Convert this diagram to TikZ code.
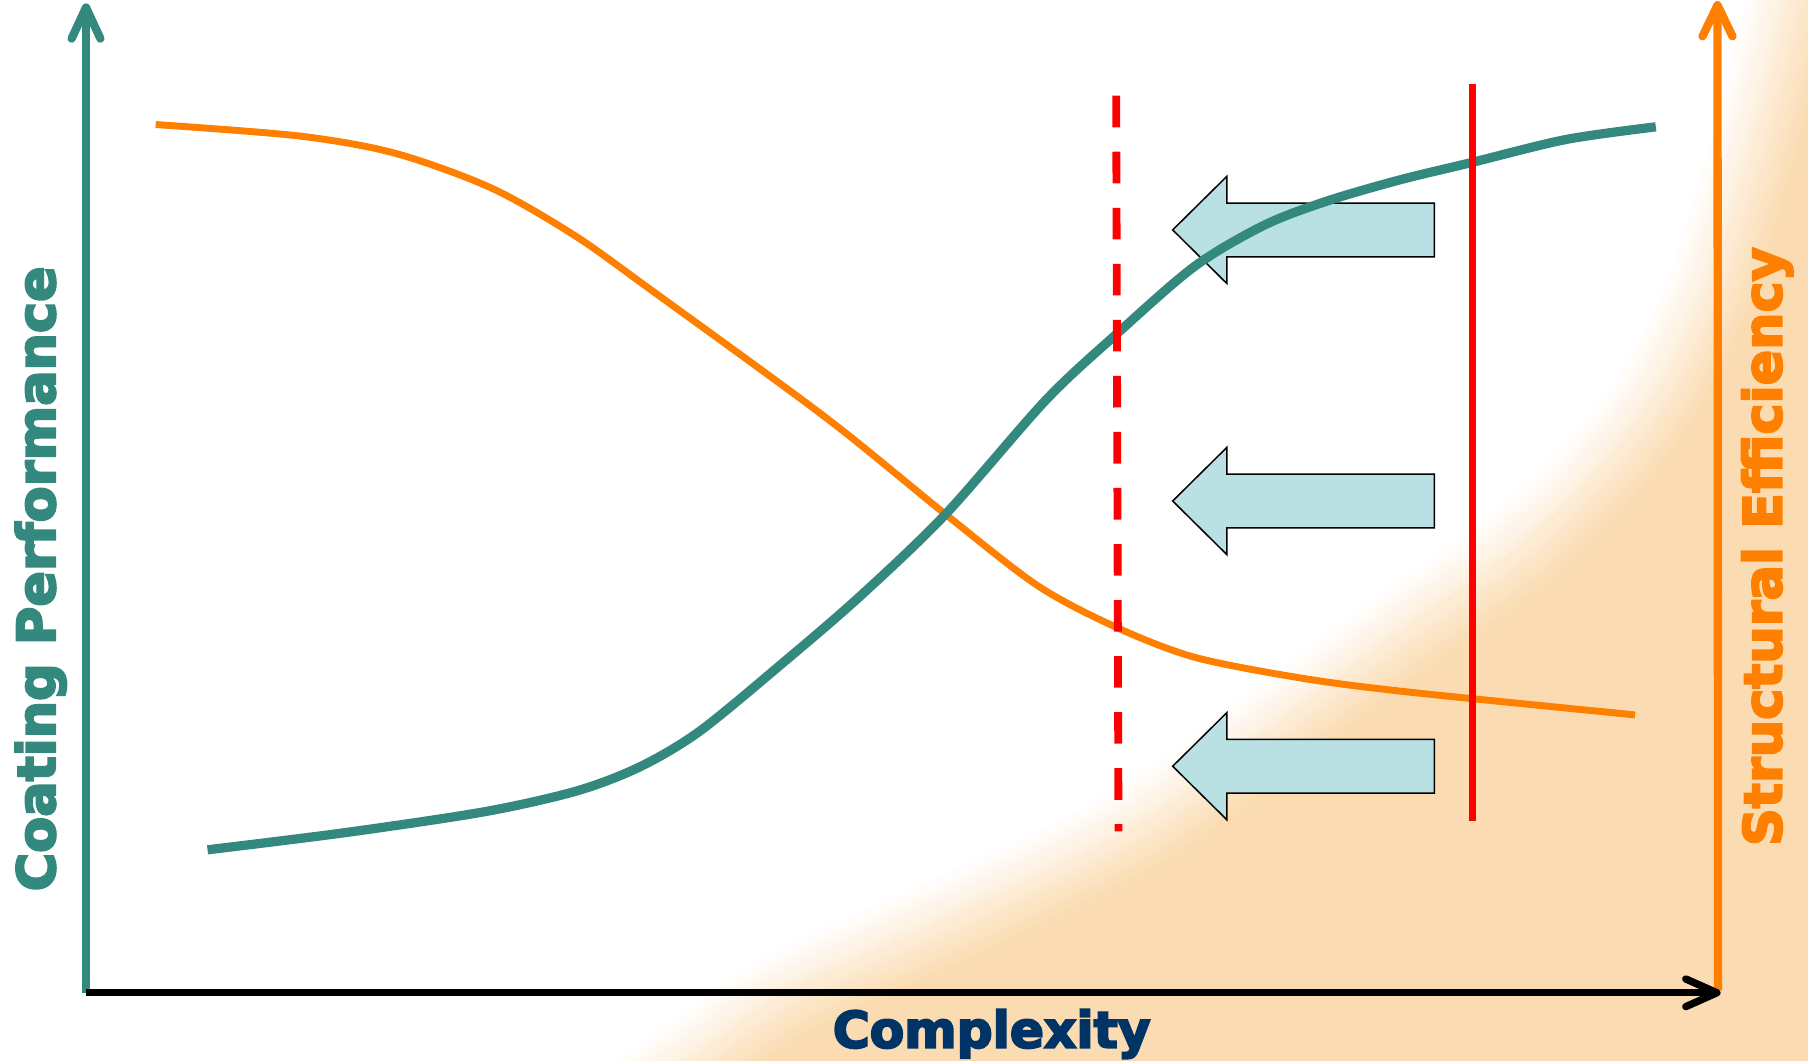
\documentclass[tikz,border=0pt]{standalone}
\usepackage{fontspec}
\newfontfamily\lblfont[FakeBold=4]{DejaVu Sans Bold}
\definecolor{tealc}{RGB}{52,137,126}
\definecolor{orngc}{RGB}{255,128,0}
\definecolor{bgor}{RGB}{251,220,178}
\definecolor{arrfill}{RGB}{185,224,227}
\definecolor{navyc}{RGB}{0,51,102}
\definecolor{redc}{RGB}{255,0,0}
\begin{document}
\begin{tikzpicture}[x=1pt,y=-1pt,
  edgepath/.style={insert path={plot[smooth,tension=0.6] coordinates {(520,975) (600,920) (687,860) (840,790) (985,718) (1080,650) (1200,560) (1330,465) (1420,368) (1474,272) (1507,175) (1532,85) (1552,0) (1566,-70)}}},
  blockarrow/.style={fill=arrfill, draw=black, line width=1.3pt, line join=miter},
  axisline/.style={line width=7.2pt, line cap=round, line join=round},
  curveline/.style={line cap=butt, line join=round},
  lbl/.style={font=\lblfont\fontsize{45.5}{50}\selectfont, inner sep=0pt, anchor=base}
]
\useasboundingbox (0,0) rectangle (1568,920);
\clip (0,0) rectangle (1568,920);
\fill[white!50!bgor] (0,0) rectangle (1568,920);
% soft orange background: white side
\begin{scope}
  \clip[edgepath] -- (-200,-150) -- (-200,1050) -- cycle;
  \fill[white] (0,0) rectangle (1568,920);
  \foreach \k in {0,...,19}{
    \pgfmathsetmacro\w{80*(1-\k/20)}
    \pgfmathsetmacro\p{50+50*(1-\k/20)}
    \draw[line width=\w pt, color=white!\p!bgor, edgepath];
  }
\end{scope}
% soft orange background: orange side
\begin{scope}
  \clip[edgepath] -- (1700,-150) -- (1700,1050) -- cycle;
  \fill[bgor] (0,0) rectangle (1568,920);
  \foreach \k in {0,...,19}{
    \pgfmathsetmacro\w{80*(1-\k/20)}
    \pgfmathsetmacro\p{50-50*(1-\k/20)}
    \draw[line width=\w pt, color=white!\p!bgor, edgepath];
  }
\end{scope}
% block arrows
\foreach \c in {199.4,434.5,664.5}{
  \draw[blockarrow] (1017,\c) -- (1064,\c-46.5) -- (1064,\c-23.3) -- (1244,\c-23.3)
    -- (1244,\c+23.3) -- (1064,\c+23.3) -- (1064,\c+46.5) -- cycle;
}
% curves
\draw[orngc, line width=6pt, curveline] plot[smooth, tension=0.5] coordinates {(135,108) (260,118) (343,133) (426,163) (498,204) (564,251) (716,362) (820,446) (900,508) (968,544) (1036,570) (1128,588) (1220,600) (1418,620)};
\draw[tealc, line width=8pt, curveline] plot[smooth, tension=0.5] coordinates {(180,737) (300,722) (420,704) (500,686) (555,665) (607,634) (680,574) (746,517) (820,446) (907,347) (968,290) (1036,231) (1097,195) (1152,174) (1214,156) (1276,141) (1358,121) (1436,110)};
% red limits
\coordinate (dTop) at (968,83);
\coordinate (dBot) at (970,721);
\coordinate (sTop) at (1277,73);
\coordinate (sBot) at (1277,712);
\draw[redc, line width=6.8pt, dash pattern=on 27.4pt off 21.2pt] (dTop) -- (dBot);
\draw[redc, line width=6.8pt] (sTop) -- (sBot);
% axes
\coordinate (O) at (74.6,861);
\coordinate (Ytip) at (74.6,6.5);
\coordinate (Xtip) at (1489,861);
\coordinate (Rbase) at (1490,859);
\coordinate (Rtip) at (1489.5,4.5);
\draw[tealc, axisline, line cap=butt] (O) -- (Ytip);
\draw[tealc, axisline] (Ytip) ++(-12.5,27) -- (Ytip) -- ++(12.5,27);
\draw[orngc, axisline, line cap=butt] (Rbase) -- (Rtip);
\draw[orngc, axisline] (Rtip) ++(-13,27) -- (Rtip) -- ++(13,27);
\draw[black, line width=6.4pt, line cap=butt] (O) -- (Xtip);
\draw[black, line width=6.4pt, line cap=round, line join=round] (Xtip) ++(-27,-12) -- (Xtip) -- ++(-27,12);
% labels
\node[lbl, text=tealc, rotate=90] (ylab) at (47.7,502) {Coating Performance};
\node[lbl, text=orngc, rotate=90] (rlab) at (1545,474) {Structural Efficiency};
\node[lbl, text=navyc, font=\lblfont\fontsize{43.6}{48}\selectfont] (xlab) at (860,908.6) {Complexity};
\end{tikzpicture}
\end{document}
